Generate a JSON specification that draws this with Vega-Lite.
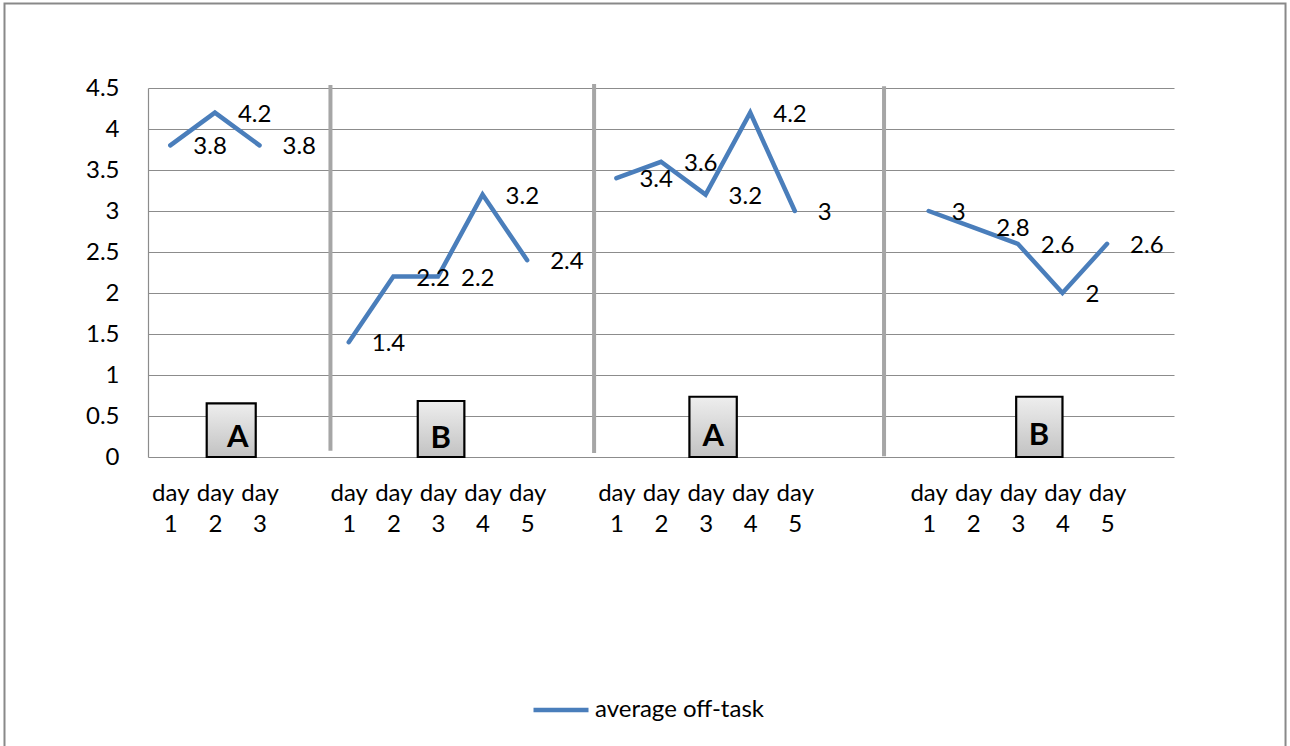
{
  "$schema": "https://vega.github.io/schema/vega-lite/v6.json",
  "width": 1026,
  "height": 369,
  "autosize": {"type": "none"},
  "padding": {"left": 148, "top": 88, "right": 116, "bottom": 289},
  "background": "white",
  "config": {
    "view": {"stroke": null},
    "font": "Lato",
    "axis": {"labelFont": "Lato", "labelColor": "#000000", "labelFontSize": 24, "labelFontWeight": "normal"},
    "legend": {"labelFont": "Lato"}
  },
  "datasets": {
    "obs": [
      {"phase": "A1", "day": 1, "slot": 0, "value": 3.8, "series": "average off-task"},
      {"phase": "A1", "day": 2, "slot": 1, "value": 4.2, "series": "average off-task"},
      {"phase": "A1", "day": 3, "slot": 2, "value": 3.8, "series": "average off-task"},
      {"phase": "B1", "day": 1, "slot": 4, "value": 1.4, "series": "average off-task"},
      {"phase": "B1", "day": 2, "slot": 5, "value": 2.2, "series": "average off-task"},
      {"phase": "B1", "day": 3, "slot": 6, "value": 2.2, "series": "average off-task"},
      {"phase": "B1", "day": 4, "slot": 7, "value": 3.2, "series": "average off-task"},
      {"phase": "B1", "day": 5, "slot": 8, "value": 2.4, "series": "average off-task"},
      {"phase": "A2", "day": 1, "slot": 10, "value": 3.4, "series": "average off-task"},
      {"phase": "A2", "day": 2, "slot": 11, "value": 3.6, "series": "average off-task"},
      {"phase": "A2", "day": 3, "slot": 12, "value": 3.2, "series": "average off-task"},
      {"phase": "A2", "day": 4, "slot": 13, "value": 4.2, "series": "average off-task"},
      {"phase": "A2", "day": 5, "slot": 14, "value": 3.0, "series": "average off-task"},
      {"phase": "B2", "day": 1, "slot": 17, "value": 3.0, "series": "average off-task"},
      {"phase": "B2", "day": 2, "slot": 18, "value": 2.8, "series": "average off-task"},
      {"phase": "B2", "day": 3, "slot": 19, "value": 2.6, "series": "average off-task"},
      {"phase": "B2", "day": 4, "slot": 20, "value": 2.0, "series": "average off-task"},
      {"phase": "B2", "day": 5, "slot": 21, "value": 2.6, "series": "average off-task"}
    ],
    "dividers": [
      {"x": 3.59, "ytop": 4.537, "ybot": 0.077},
      {"x": 9.5, "ytop": 4.55, "ybot": 0.05},
      {"x": 16.0, "ytop": 4.52, "ybot": 0.01}
    ],
    "boxes": [
      {"letter": "A", "x1": 0.816, "x2": 1.915, "top": 0.655, "lx": 1.511, "ly": 0.228},
      {"letter": "B", "x1": 5.547, "x2": 6.592, "top": 0.683, "lx": 6.061, "ly": 0.216},
      {"letter": "A", "x1": 11.637, "x2": 12.699, "top": 0.735, "lx": 12.172, "ly": 0.248},
      {"letter": "B", "x1": 18.962, "x2": 20.0, "top": 0.735, "lx": 19.474, "ly": 0.26}
    ],
    "frame": [
      {"x1": -3.717, "x2": 25.0, "y1": 5.53, "y2": -4.2}
    ]
  },
  "layer": [
    {
      "data": {"name": "obs"},
      "mark": {"type": "line", "strokeWidth": 4.5, "strokeCap": "round", "strokeJoin": "miter"},
      "encoding": {
        "x": {
          "field": "slot", "type": "quantitative",
          "scale": {"domain": [-0.5, 22.5], "nice": false, "zero": false},
          "axis": {
            "title": null, "values": [0, 1, 2, 4, 5, 6, 7, 8, 10, 11, 12, 13, 14, 17, 18, 19, 20, 21],
            "ticks": false, "tickSize": 0, "grid": false, "domain": false,
            "labelPadding": 24, "labelLineHeight": 31, "labelBaseline": "top",
            "labelExpr": "['day', '' + (datum.value < 3 ? datum.value + 1 : datum.value < 9 ? datum.value - 3 : datum.value < 15 ? datum.value - 9 : datum.value - 16)]",
            "labelOverlap": false, "labelFlush": false
          }
        },
        "y": {
          "field": "value", "type": "quantitative",
          "scale": {"domain": [0, 4.5], "nice": false, "zero": false},
          "axis": {
            "title": null, "values": [0, 0.5, 1, 1.5, 2, 2.5, 3, 3.5, 4, 4.5], "format": "~g",
            "ticks": false, "tickSize": 0, "labelPadding": 29,
            "grid": true, "gridColor": "#8c8c8c", "gridWidth": 1.2,
            "domain": true, "domainColor": "#8c8c8c", "domainWidth": 1.2,
            "labelOverlap": false, "labelFlush": false
          }
        },
        "detail": {"field": "phase"},
        "color": {
          "field": "series", "type": "nominal",
          "scale": {"range": ["#4a7ebb"]},
          "legend": {
            "title": null, "orient": "none", "legendX": 383, "legendY": 592,
            "symbolType": "stroke", "symbolSize": 3025, "symbolStrokeWidth": 4.5,
            "labelFontSize": 24, "labelColor": "#000000", "labelOffset": 4, "labelLimit": 500
          }
        }
      }
    },
    {
      "data": {"name": "dividers"},
      "mark": {"type": "rule", "color": "#a6a6a6", "strokeWidth": 4},
      "encoding": {
        "x": {"field": "x", "type": "quantitative", "title": null},
        "y": {"field": "ytop", "type": "quantitative", "title": null},
        "y2": {"field": "ybot"}
      }
    },
    {
      "data": {"name": "boxes"},
      "mark": {
        "type": "rect", "stroke": "#000000", "strokeWidth": 2.2,
        "fill": {"gradient": "linear", "x1": 0, "y1": 0, "x2": 0, "y2": 1,
          "stops": [{"offset": 0, "color": "#eeeeee"}, {"offset": 1, "color": "#c2c2c2"}]}
      },
      "encoding": {
        "x": {"field": "x1", "type": "quantitative", "title": null},
        "x2": {"field": "x2"},
        "y": {"field": "top", "type": "quantitative", "title": null},
        "y2": {"datum": 0}
      }
    },
    {
      "data": {"name": "boxes"},
      "mark": {"type": "text", "font": "Lato", "fontWeight": "bold", "fontSize": 31, "color": "#000000", "align": "center", "baseline": "middle"},
      "encoding": {
        "x": {"field": "lx", "type": "quantitative", "title": null},
        "y": {"field": "ly", "type": "quantitative", "title": null},
        "text": {"field": "letter"}
      }
    },
    {
      "data": {"name": "obs"},
      "mark": {"type": "text", "font": "Lato", "fontSize": 24, "color": "#000000", "align": "left", "baseline": "middle", "dx": 23, "dy": 2},
      "encoding": {
        "x": {"field": "slot", "type": "quantitative", "title": null},
        "y": {"field": "value", "type": "quantitative", "title": null},
        "text": {"field": "value", "type": "quantitative", "format": "~g"}
      }
    },
    {
      "data": {"name": "frame"},
      "mark": {"type": "rect", "fill": null, "stroke": "#898989", "strokeWidth": 2, "clip": false},
      "encoding": {
        "x": {"field": "x1", "type": "quantitative", "title": null},
        "x2": {"field": "x2"},
        "y": {"field": "y1", "type": "quantitative", "title": null},
        "y2": {"field": "y2"}
      }
    }
  ]
}
